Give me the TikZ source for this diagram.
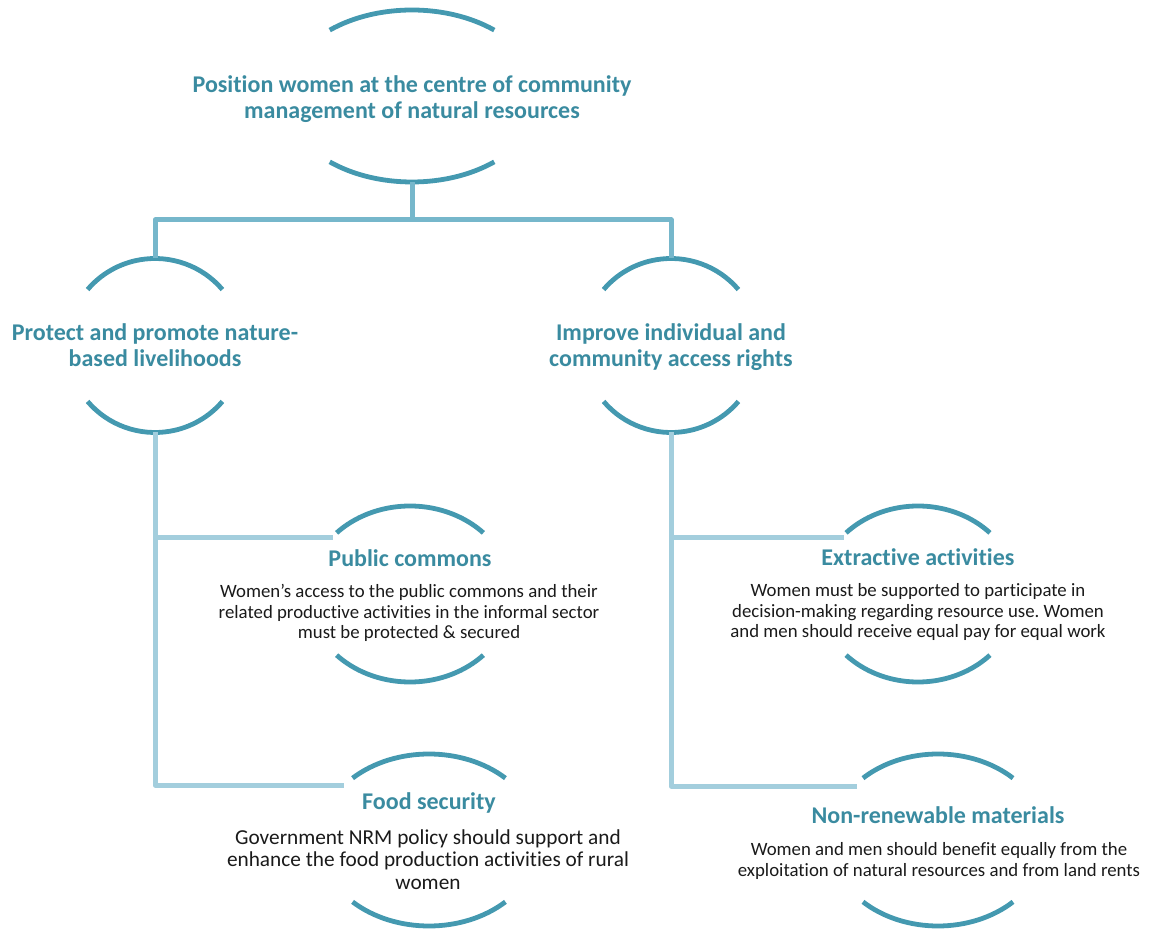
\documentclass[tikz,border=0pt]{standalone}
\usepackage{fontspec}
\setmainfont{Carlito}[Ligatures={NoCommon}]
\frenchspacing
\definecolor{arcc}{HTML}{4499B0}
\definecolor{headc}{HTML}{3A8BA0}
\definecolor{linkA}{HTML}{76B7CB}
\definecolor{linkB}{HTML}{A3CEDD}
\definecolor{bodyc}{HTML}{1A1A1A}
\newcommand\ringnode[6]{%
  \pgfmathsetmacro\ringA{180-#6}%
  \pgfmathsetmacro\ringB{180+#6}%
  \pgfmathsetmacro\ringC{360-#6}%
  \coordinate (#1) at (#2,#3);
  \coordinate (#1-n) at (#2,#3+#5);
  \coordinate (#1-s) at (#2,#3-#5);
  \draw[arcline] ([shift={(#6:#4 and #5)}]#1) arc[start angle=#6,end angle=\ringA,x radius=#4,y radius=#5];
  \draw[arcline] ([shift={(\ringB:#4 and #5)}]#1) arc[start angle=\ringB,end angle=\ringC,x radius=#4,y radius=#5];
}
\begin{document}
\begin{tikzpicture}[x=1pt,y=1pt,
  arcline/.style={draw=arcc,line width=4.8pt},
  toplink/.style={draw=linkA,line width=5pt,line join=round},
  sublink/.style={draw=linkB,line width=5pt,line join=round},
  bighead/.style={text=headc,font=\fontsize{24}{26}\selectfont\bfseries,align=center,inner sep=0pt,anchor=base},
  subhead/.style={text=headc,font=\fontsize{24}{26}\selectfont\bfseries,align=center,inner sep=0pt,anchor=base},
  bodytxt/.style={text=bodyc,font=\fontsize{18.8}{20.6}\selectfont,align=center,inner sep=0pt,anchor=base},
  bigbody/.style={text=bodyc,font=\fontsize{21.3}{22.5}\selectfont,align=center,inner sep=0pt,anchor=base}]
\useasboundingbox (0,0) rectangle (1149,930);

% rings
\ringnode{top}{412}{834}{128}{86}{50}
\ringnode{L}{155}{584.5}{88}{87}{40}
\ringnode{R}{671}{584.5}{88}{87}{40}
\ringnode{PC}{410}{336}{102}{88}{44}
\ringnode{EA}{918}{336}{100}{88}{44}
\ringnode{FS}{429}{90}{110}{86}{46}
\ringnode{NR}{938}{90}{108}{86}{46}

% connector ends
\coordinate (hub) at (412,710);
\coordinate (PC-in) at (333,392);
\coordinate (FS-in) at (344,145);
\coordinate (EA-in) at (844,392);
\coordinate (NR-in) at (857,144);

% connectors
\draw[toplink] (top-s) -- (hub);
\draw[toplink] (L-n) |- (hub) -| (R-n);
\draw[sublink] (L-s) |- (FS-in);
\draw[sublink] (L-s |- PC-in) -- (PC-in);
\draw[sublink] (R-s) |- (NR-in);
\draw[sublink] (R-s |- EA-in) -- (EA-in);

% texts (anchor base = baseline of the last line)
\node[bighead] (top-t) at (412,811) {Position women at the centre of community\\management of natural resources};
\node[bighead] (L-t) at (155,563) {Protect and promote nature-\\based livelihoods};
\node[bighead] (R-t) at (671,563) {Improve individual and\\community access rights};

\node[subhead] (PC-h) at (410,363) {Public commons};
\node[bodytxt] (PC-b) at (409,291) {Women’s access to the public commons and their\\related productive activities in the informal sector\\must be protected \& secured};

\node[subhead] (EA-h) at (918,364) {Extractive activities};
\node[bodytxt] (EA-b) at (918,292) {Women must be supported to participate in\\decision-making regarding resource use. Women\\and men should receive equal pay for equal work};

\node[subhead] (FS-h) at (429,121) {Food security};
\node[bigbody] (FS-b) at (428,41) {Government NRM policy should support and\\enhance the food production activities of rural\\women};

\node[subhead] (NR-h) at (938,107) {Non-renewable materials};
\node[bodytxt] (NR-b) at (939,54) {Women and men should benefit equally from the\\exploitation of natural resources and from land rents};
\end{tikzpicture}
\end{document}
